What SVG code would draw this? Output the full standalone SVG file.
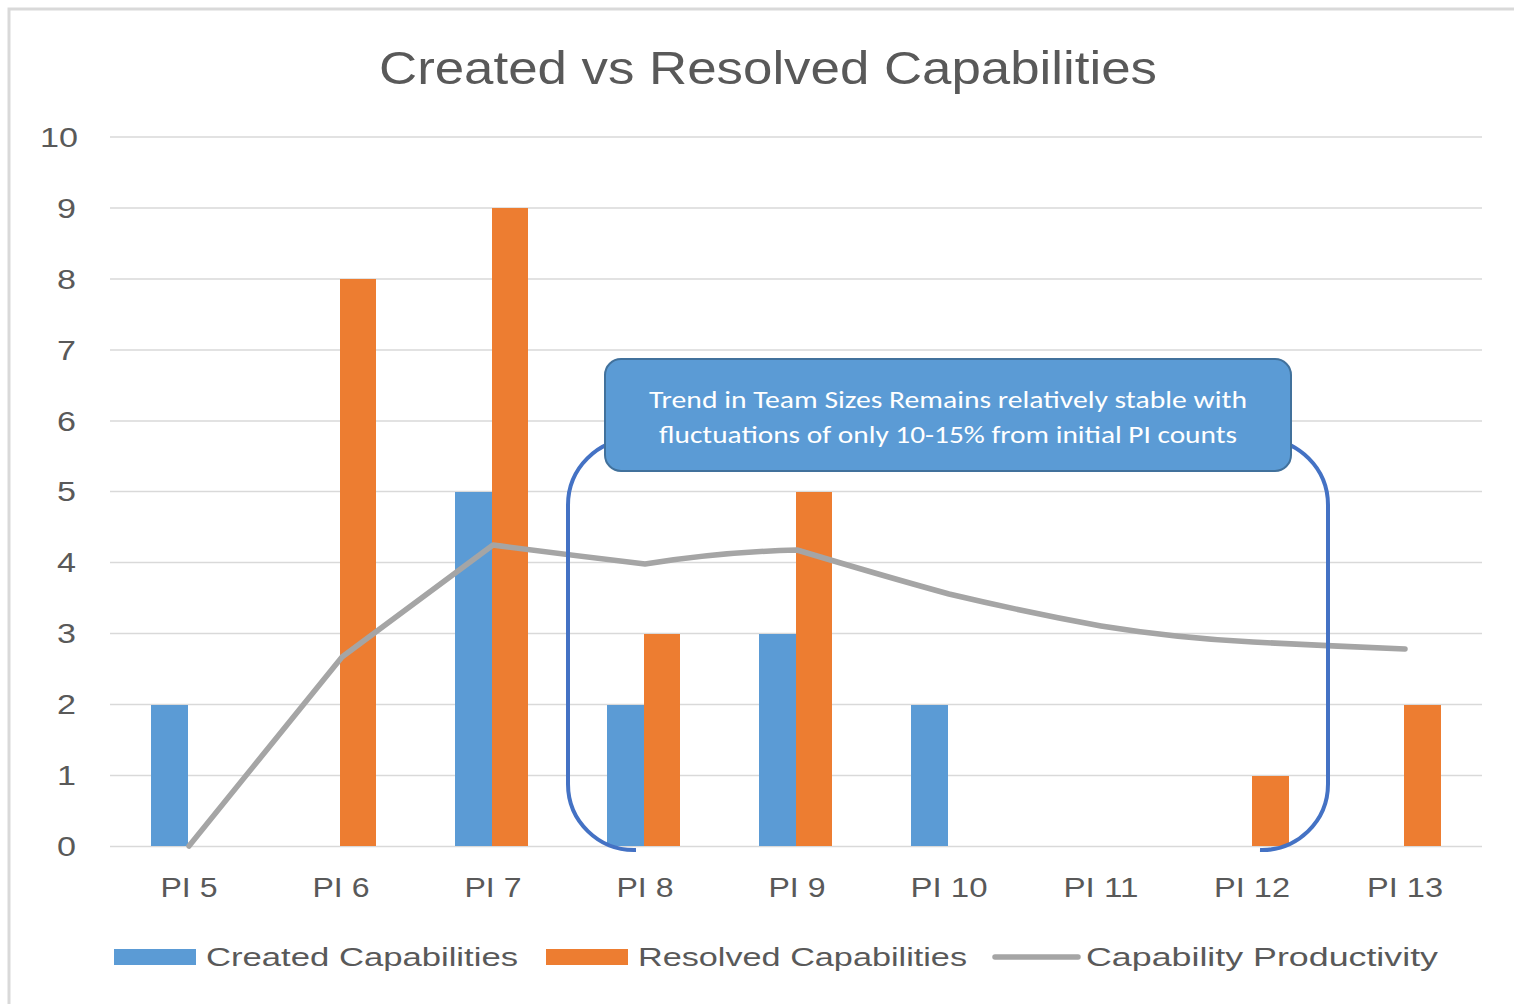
<svg xmlns="http://www.w3.org/2000/svg" width="1514" height="1004" viewBox="0 0 1514 1004">
  <style>
    .txt { font-family: "Liberation Sans", Arial, sans-serif; fill: #595959; }
    .title { font-size: 46px; }
    .ytick { font-size: 27px; text-anchor: end; }
    .xtick { font-size: 27px; text-anchor: middle; }
    .legend { font-size: 26px; }
    .grid { stroke: #d9d9d9; stroke-width: 1.5; }
    .created { fill: #5b9bd5; }
    .resolved { fill: #ed7d31; }
    .trend { fill: none; stroke: #a5a5a5; stroke-width: 5.5; stroke-linecap: round; stroke-linejoin: round; }
    .bracket { fill: none; stroke: #4472c4; stroke-width: 4; }
    .callout-box { fill: #5b9bd5; stroke: #41719c; stroke-width: 2; }
    .callout-text { font-family: Carlito, "Liberation Sans", Arial, sans-serif; font-size: 24px; fill: #ffffff; text-anchor: middle; }
  </style>

  <rect width="1514" height="1004" fill="#ffffff"/>
  <!-- chart frame -->
  <path d="M 9 1004 L 9 9 L 1514 9" fill="none" stroke="#d9d9d9" stroke-width="3"/>

  <text class="txt title" x="768" y="84" text-anchor="middle" textLength="778" lengthAdjust="spacingAndGlyphs">Created vs Resolved Capabilities</text>

  <!-- gridlines -->
  <g id="gridlines">
    <line class="grid" x1="110" y1="137" x2="1482" y2="137"/>
    <line class="grid" x1="110" y1="208" x2="1482" y2="208"/>
    <line class="grid" x1="110" y1="279" x2="1482" y2="279"/>
    <line class="grid" x1="110" y1="350" x2="1482" y2="350"/>
    <line class="grid" x1="110" y1="421" x2="1482" y2="421"/>
    <line class="grid" x1="110" y1="491.5" x2="1482" y2="491.5"/>
    <line class="grid" x1="110" y1="562.5" x2="1482" y2="562.5"/>
    <line class="grid" x1="110" y1="633.5" x2="1482" y2="633.5"/>
    <line class="grid" x1="110" y1="704.5" x2="1482" y2="704.5"/>
    <line class="grid" x1="110" y1="775.5" x2="1482" y2="775.5"/>
    <line class="grid" x1="110" y1="846.5" x2="1482" y2="846.5"/>
  </g>

  <!-- value axis -->
  <g id="y-axis">
    <text class="txt ytick" x="78" y="147" textLength="38" lengthAdjust="spacingAndGlyphs">10</text>
    <text class="txt ytick" x="76" y="218" textLength="19" lengthAdjust="spacingAndGlyphs">9</text>
    <text class="txt ytick" x="76" y="289" textLength="19" lengthAdjust="spacingAndGlyphs">8</text>
    <text class="txt ytick" x="76" y="360" textLength="19" lengthAdjust="spacingAndGlyphs">7</text>
    <text class="txt ytick" x="76" y="431" textLength="19" lengthAdjust="spacingAndGlyphs">6</text>
    <text class="txt ytick" x="76" y="501" textLength="19" lengthAdjust="spacingAndGlyphs">5</text>
    <text class="txt ytick" x="76" y="572" textLength="19" lengthAdjust="spacingAndGlyphs">4</text>
    <text class="txt ytick" x="76" y="643" textLength="19" lengthAdjust="spacingAndGlyphs">3</text>
    <text class="txt ytick" x="76" y="714" textLength="19" lengthAdjust="spacingAndGlyphs">2</text>
    <text class="txt ytick" x="76" y="785" textLength="19" lengthAdjust="spacingAndGlyphs">1</text>
    <text class="txt ytick" x="76" y="856" textLength="19" lengthAdjust="spacingAndGlyphs">0</text>
  </g>

  <!-- category axis -->
  <g id="x-axis">
    <text class="txt xtick" x="189" y="897" textLength="57" lengthAdjust="spacingAndGlyphs">PI 5</text>
    <text class="txt xtick" x="341" y="897" textLength="57" lengthAdjust="spacingAndGlyphs">PI 6</text>
    <text class="txt xtick" x="493" y="897" textLength="57" lengthAdjust="spacingAndGlyphs">PI 7</text>
    <text class="txt xtick" x="645" y="897" textLength="57" lengthAdjust="spacingAndGlyphs">PI 8</text>
    <text class="txt xtick" x="797" y="897" textLength="57" lengthAdjust="spacingAndGlyphs">PI 9</text>
    <text class="txt xtick" x="949" y="897" textLength="77" lengthAdjust="spacingAndGlyphs">PI 10</text>
    <text class="txt xtick" x="1101" y="897" textLength="75" lengthAdjust="spacingAndGlyphs">PI 11</text>
    <text class="txt xtick" x="1252" y="897" textLength="76" lengthAdjust="spacingAndGlyphs">PI 12</text>
    <text class="txt xtick" x="1405" y="897" textLength="76" lengthAdjust="spacingAndGlyphs">PI 13</text>
  </g>

  <!-- created capabilities -->
  <g id="created-bars">
    <rect class="created" x="151" y="705" width="37" height="141"/>
    <rect class="created" x="455" y="492" width="37" height="354"/>
    <rect class="created" x="607" y="705" width="37" height="141"/>
    <rect class="created" x="759" y="634" width="37" height="212"/>
    <rect class="created" x="911" y="705" width="37" height="141"/>
  </g>

  <!-- resolved capabilities -->
  <g id="resolved-bars">
    <rect class="resolved" x="340" y="279" width="36" height="567"/>
    <rect class="resolved" x="492" y="208" width="36" height="638"/>
    <rect class="resolved" x="644" y="634" width="36" height="212"/>
    <rect class="resolved" x="796" y="492" width="36" height="354"/>
    <rect class="resolved" x="1252" y="776" width="37" height="70"/>
    <rect class="resolved" x="1404" y="705" width="37" height="141"/>
  </g>

  <!-- capability productivity -->
  <g id="productivity-line">
    <path class="trend" d="M 189 846 L 342 657 L 493 545 Q 570 555 645 564 Q 720 552 797 550 Q 880 575 949 594 Q 1025 612 1101 626 Q 1175 638 1253 642 Q 1330 646 1405 649"/>
  </g>

  <!-- bracket around PI 8 to PI 12 -->
  <g id="connectors">
    <path class="bracket" d="M 636 850 A 66 66 0 0 1 568 784 L 568 505 A 66 66 0 0 1 634 439 L 700 439"/>
    <path class="bracket" d="M 1260 850 A 66 66 0 0 0 1328 784 L 1328 505 A 66 66 0 0 0 1262 439 L 1200 439"/>
  </g>

  <!-- callout -->
  <g id="callout">
    <rect class="callout-box" x="605" y="359" width="686" height="112" rx="16" ry="16"/>
    <text class="callout-text" x="948" y="408" textLength="598" lengthAdjust="spacingAndGlyphs">Trend in Team Sizes Remains relatively stable with</text>
    <text class="callout-text" x="948" y="443" textLength="578" lengthAdjust="spacingAndGlyphs">fluctuations of only 10-15% from initial PI counts</text>
  </g>

  <!-- legend -->
  <g id="legend">
    <rect class="created" x="114" y="949" width="82" height="16"/>
    <text class="txt legend" x="206" y="966" textLength="312" lengthAdjust="spacingAndGlyphs">Created Capabilities</text>
    <rect class="resolved" x="546" y="949" width="82" height="16"/>
    <text class="txt legend" x="638" y="966" textLength="329" lengthAdjust="spacingAndGlyphs">Resolved Capabilities</text>
    <line class="trend" x1="995" y1="957" x2="1078" y2="957"/>
    <text class="txt legend" x="1086" y="966" textLength="352" lengthAdjust="spacingAndGlyphs">Capability Productivity</text>
  </g>
</svg>
